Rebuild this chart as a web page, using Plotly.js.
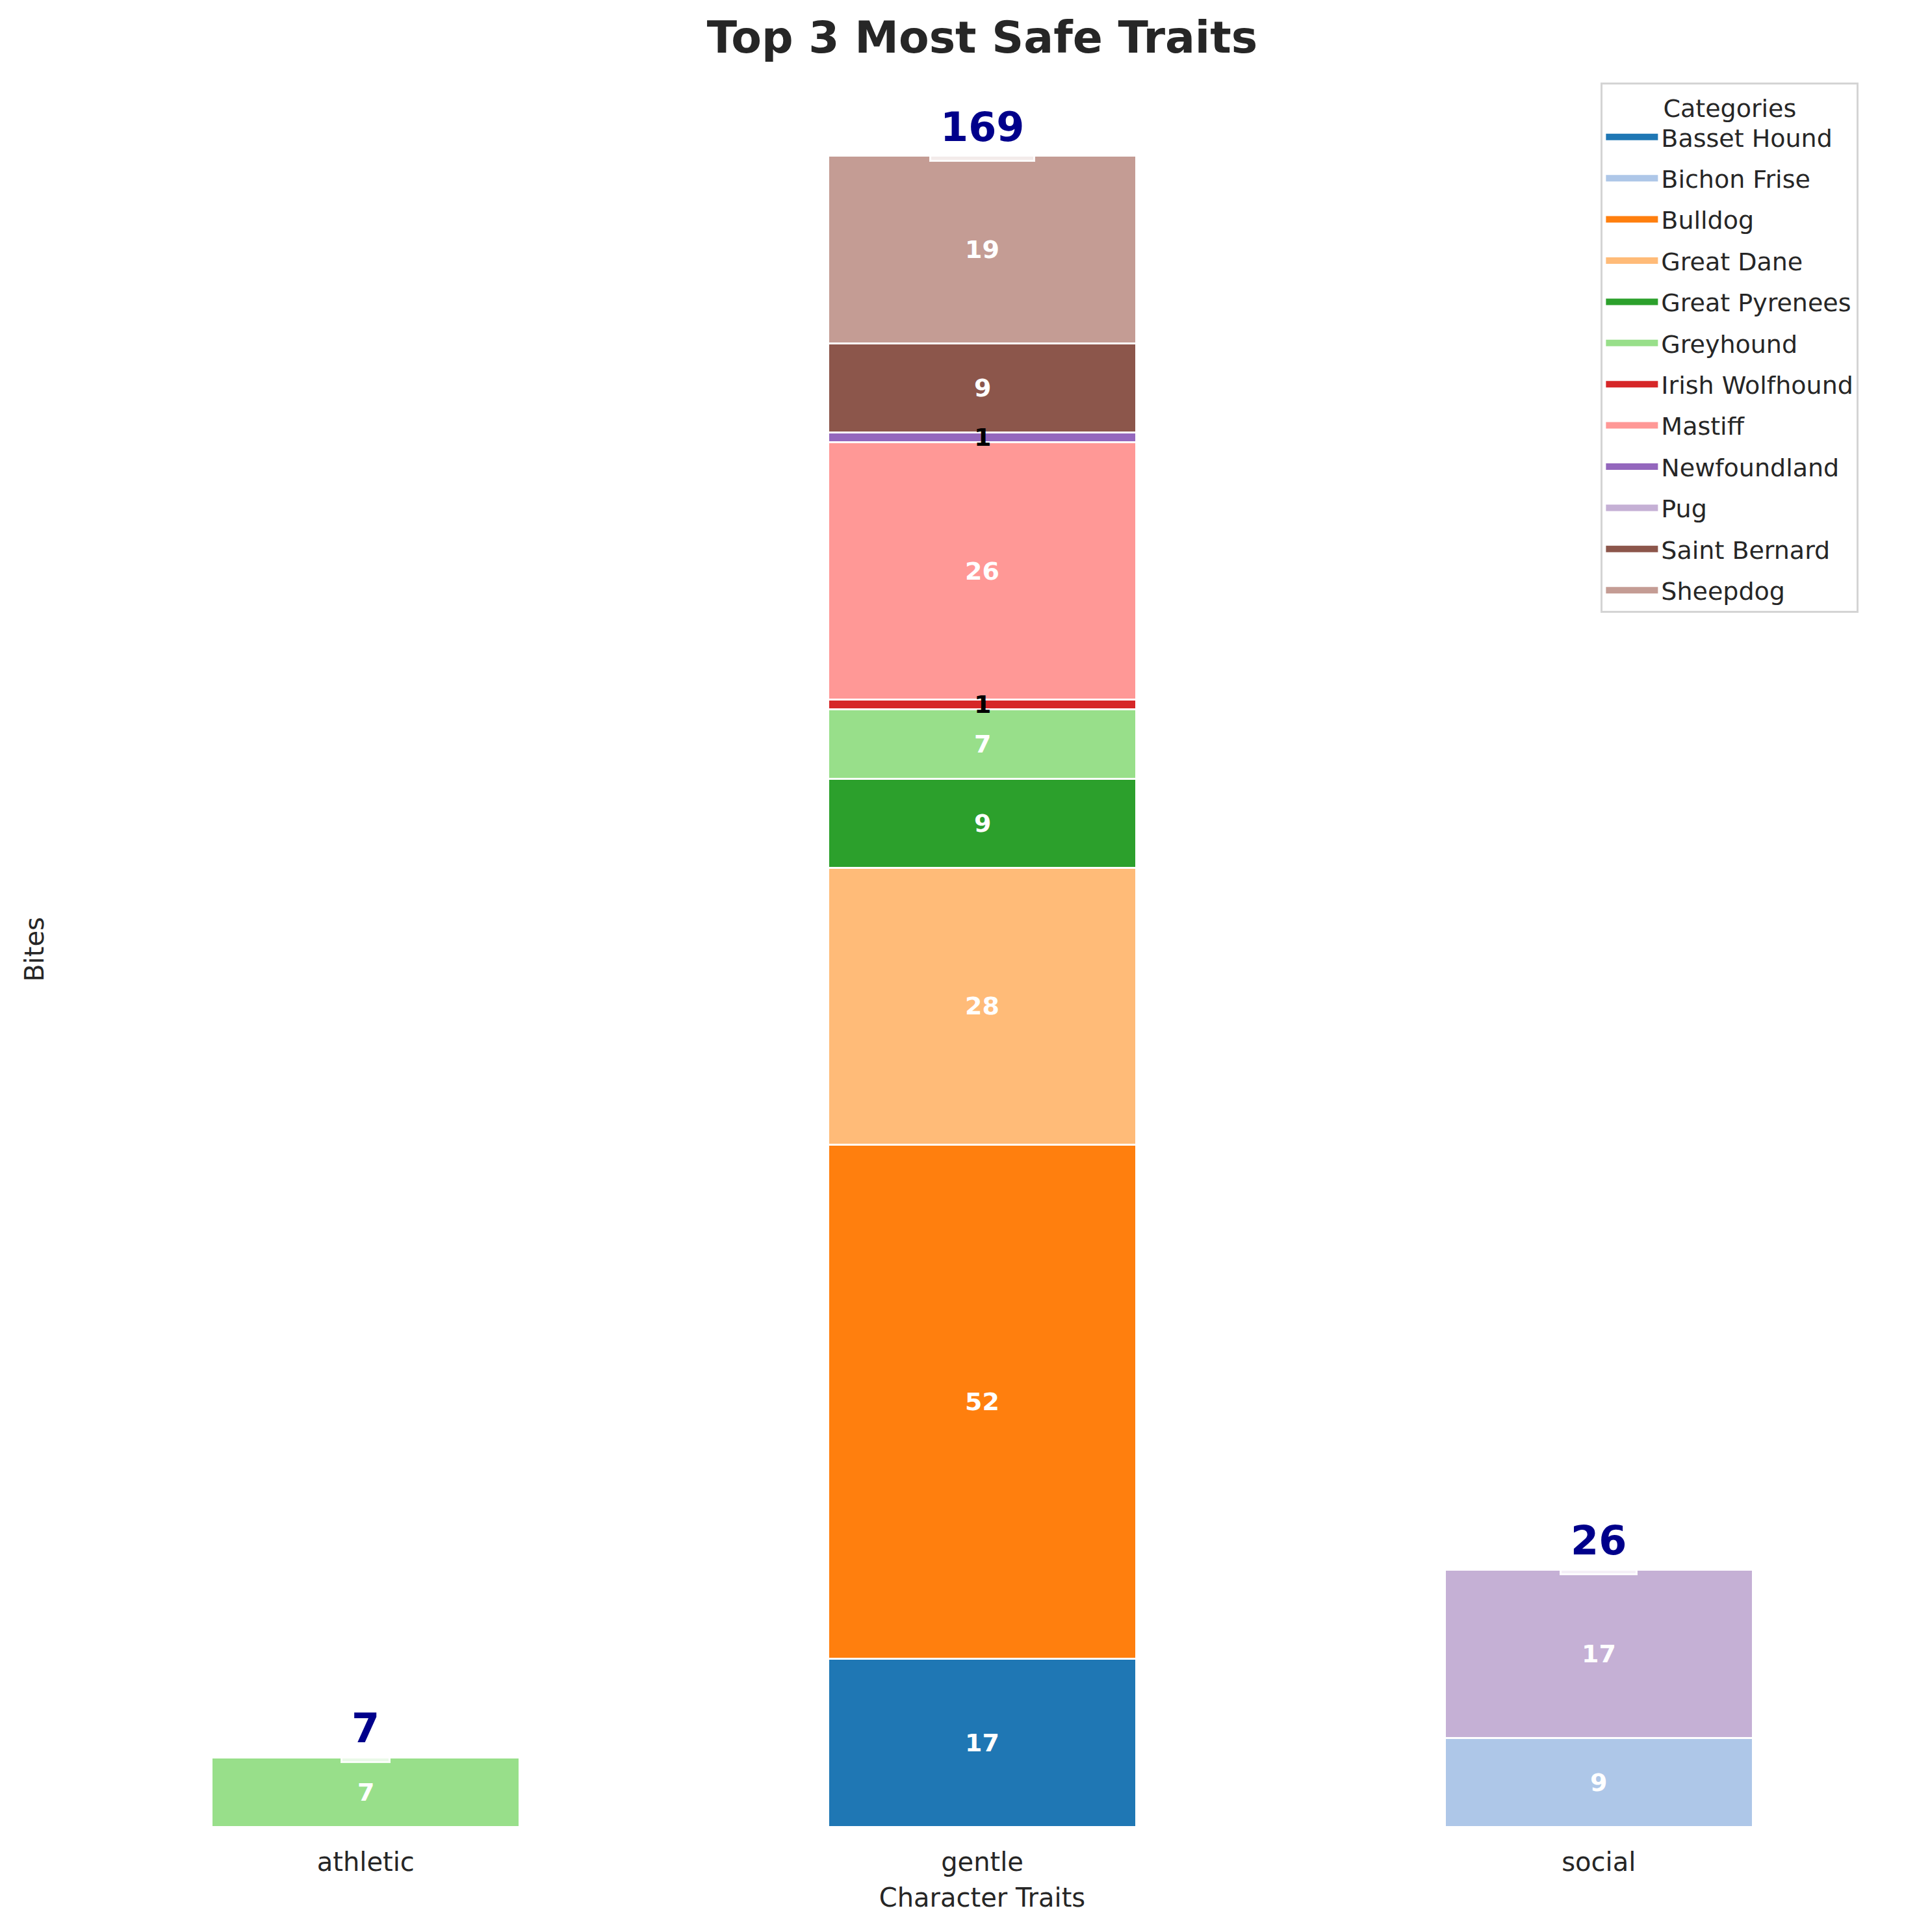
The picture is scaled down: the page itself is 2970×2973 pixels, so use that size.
<!DOCTYPE html>
<html>
<head>
<meta charset="utf-8">
<script src="https://cdn.plot.ly/plotly-3.0.1.min.js"></script>
<style>html,body{margin:0;padding:0;background:#fff}</style>
</head>
<body>
<div id="chart" style="width:2970px;height:2973px"></div>
<script>
// ---- data ----
const categories = ['athletic', 'gentle', 'social'];
const breeds = ['Basset Hound', 'Bichon Frise', 'Bulldog', 'Great Dane', 'Great Pyrenees',
  'Greyhound', 'Irish Wolfhound', 'Mastiff', 'Newfoundland', 'Pug', 'Saint Bernard', 'Sheepdog'];
const bassetHound    = [null, 17, null];
const bichonFrise    = [null, null, 9];
const bulldog        = [null, 52, null];
const greatDane      = [null, 28, null];
const greatPyrenees  = [null, 9, null];
const greyhound      = [7, 7, null];
const irishWolfhound = [null, 1, null];
const mastiff        = [null, 26, null];
const newfoundland   = [null, 1, null];
const pug            = [null, null, 17];
const saintBernard   = [null, 9, null];
const sheepdog       = [null, 19, null];
const breedColors = ['#1f77b4', '#aec7e8', '#ff7f0e', '#ffbb78', '#2ca02c', '#98df8a',
  '#d62728', '#ff9896', '#9467bd', '#c5b0d5', '#8c564b', '#c49c94'];

const series = [bassetHound, bichonFrise, bulldog, greatDane, greatPyrenees, greyhound,
  irishWolfhound, mastiff, newfoundland, pug, saintBernard, sheepdog];

const FONT = 'DejaVu Sans, Liberation Sans, sans-serif';

const traces = breeds.map((name, i) => ({
  type: 'bar',
  name: name,
  x: categories,
  y: series[i],
  legendgroup: name,
  showlegend: false,
  marker: {color: breedColors[i], line: {color: '#ffffff', width: 3}},
  hoverinfo: 'x+y+name'
}));
// legend entries (wide colour patches, like the reference's legend handles)
breeds.forEach((name, i) => {
  traces.push({
    type: 'scatter', mode: 'lines', name: name, legendgroup: name,
    x: [null], y: [null],
    line: {color: breedColors[i], width: 27},
    hoverinfo: 'skip', showlegend: true
  });
});

// segment labels and totals
const annotations = [];
const cum = categories.map(() => 0);
series.forEach((vals) => {
  vals.forEach((v, j) => {
    if (v === null || v === undefined) return;
    annotations.push({
      x: categories[j], y: cum[j] + v / 2, xref: 'x', yref: 'y',
      text: '<b>' + v + '</b>', showarrow: false,
      font: {family: FONT, size: 38, color: v <= 1 ? '#000000' : '#ffffff'},
      yanchor: 'middle'
    });
    cum[j] += v;
  });
});
categories.forEach((c, j) => {
  annotations.push({
    x: c, y: cum[j], xref: 'x', yref: 'y',
    text: '<b>' + cum[j] + '</b>', showarrow: false,
    font: {family: FONT, size: 62, color: '#00008b'},
    bgcolor: 'rgba(255,255,255,0.8)', bordercolor: 'rgba(255,255,255,0.9)', borderwidth: 3, borderpad: 14,
    yanchor: 'bottom', yshift: -9
  });
});

const maxTotal = Math.max(...cum);

const layout = {
  width: 2970, height: 2973,
  paper_bgcolor: '#ffffff', plot_bgcolor: '#ffffff',
  margin: {l: 207, r: 154, t: 111, b: 162},
  barmode: 'stack', bargap: 0.5,
  font: {family: FONT, color: '#262626', size: 40},
  title: {
    text: '<b>Top 3 Most Safe Traits</b>',
    font: {family: FONT, size: 68, color: '#262626'},
    x: 0.5, xref: 'paper', xanchor: 'center',
    y: 1 - 57 / 2973, yref: 'container', yanchor: 'middle'
  },
  xaxis: {
    type: 'category', range: [-0.375, 2.375],
    showline: false, showgrid: false, zeroline: false, ticks: '',
    ticklabelstandoff: 27,
    tickfont: {family: FONT, size: 40, color: '#262626'},
    title: {text: 'Character Traits', font: {family: FONT, size: 40, color: '#262626'}, standoff: 18}
  },
  yaxis: {
    range: [0, maxTotal * 1.05],
    showline: false, showgrid: false, zeroline: false, ticks: '', showticklabels: false,
    title: {text: 'Bites', font: {family: FONT, size: 40, color: '#262626'}, standoff: 126}
  },
  legend: {
    title: {text: 'Categories', side: 'top center', font: {family: FONT, size: 38, color: '#262626'}},
    font: {family: FONT, size: 38, color: '#262626'},
    traceorder: 'grouped', tracegroupgap: 11, itemwidth: 80,
    x: 1.017, xanchor: 'right', y: 0.994, yanchor: 'top',
    bgcolor: '#ffffff', bordercolor: '#d4d4d4', borderwidth: 3
  },
  annotations: annotations,
  showlegend: true
};

Plotly.newPlot('chart', traces, layout, {displayModeBar: false, staticPlot: true});
</script>
</body>
</html>
